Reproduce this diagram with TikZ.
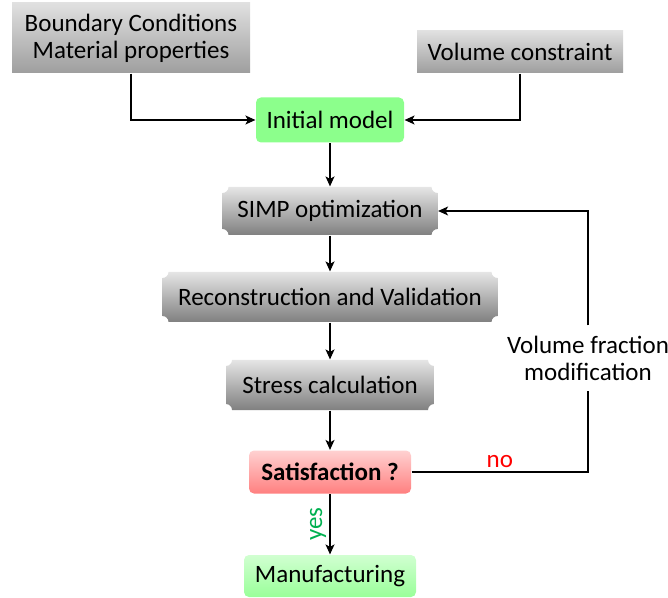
\documentclass[tikz,border=0pt]{standalone}
\usepackage{fontspec}
\setmainfont{Carlito}
\usetikzlibrary{arrows.meta}
\newlength\plr
\setlength\plr{6pt}
\begin{document}
\begin{tikzpicture}[x=1pt, y=1pt, line width=1.2pt, font=\fontsize{25}{27}\selectfont]
  \tikzstyle{flow}=[-{Stealth[length=10pt,width=9pt,inset=2.5pt]}]
  \tikzstyle{graybox}=[top color=black!12, bottom color=black!38, inner sep=0pt, align=center]
  \tikzstyle{plaque}=[inner sep=0pt, align=center, path picture={
      \shade[top color=black!10, bottom color=black!50]
        ([xshift=\plr]path picture bounding box.north west) --
        ([xshift=-\plr]path picture bounding box.north east)
          arc[start angle=180, end angle=270, radius=\plr] --
        ([yshift=\plr]path picture bounding box.south east)
          arc[start angle=90, end angle=180, radius=\plr] --
        ([xshift=\plr]path picture bounding box.south west)
          arc[start angle=0, end angle=90, radius=\plr] --
        ([yshift=-\plr]path picture bounding box.north west)
          arc[start angle=270, end angle=360, radius=\plr] -- cycle;}]
  \tikzstyle{greenbox}=[rounded corners=5pt, inner sep=0pt, fill=green!45]
  \definecolor{yesgreen}{HTML}{00B050}

  \useasboundingbox (0, 0) rectangle (668, 597);

  \path
    (131, 559) node[graybox, minimum width=238, minimum height=70] (bc) {Boundary Conditions\\Material properties}
    (520, 545) node[graybox, minimum width=206, minimum height=42] (vc) {Volume constraint}
    (330, 477) node[greenbox, minimum width=148, minimum height=45] (init) {Initial model}
    (330, 386) node[plaque, minimum width=215, minimum height=48] (simp) {SIMP optimization}
    (330, 300) node[plaque, minimum width=335, minimum height=50] (recon) {Reconstruction and Validation}
    (330, 212) node[plaque, minimum width=208, minimum height=50] (stress) {Stress calculation}
    (330, 125) node[rounded corners=5pt, top color=red!18, bottom color=red!50, inner sep=0pt,
                    minimum width=162, minimum height=43] (sat) {\textbf{Satisfaction ?}}
    (330, 21) node[rounded corners=5pt, top color=green!18, bottom color=green!40, inner sep=0pt,
                   minimum width=172, minimum height=42] (manu) {Manufacturing}
    (588, 239) node[fill=white, align=center, inner sep=0pt, minimum width=164, minimum height=64] (vfm) {Volume fraction\\modification};

  \draw[flow] (bc.south) |- (init.west);
  \draw[flow] (vc.south) |- (init.east);

  \foreach \f/\t in {init/simp,simp/recon,recon/stress,stress/sat}
    \draw[flow] (\f) -- (\t);

  \draw[flow] (sat) -- node[rotate=90, anchor=south, text=yesgreen] {yes} (manu);

  \draw (sat.east) -| node[pos=0.25, above, text=red] {no} (vfm.south);
  \draw[flow] (vfm.north) |- (simp.east);
\end{tikzpicture}
\end{document}
